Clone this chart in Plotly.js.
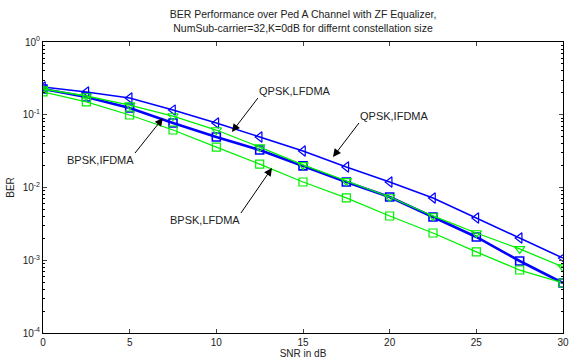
<!DOCTYPE html>
<html>
<head>
<meta charset="utf-8">
<script src="https://cdn.plot.ly/plotly-3.0.1.min.js"></script>
<style>html,body{margin:0;padding:0;background:#fff;}#chart{width:569px;height:363px;}</style>
</head>
<body>
<div id="chart"></div>
<script>
// Data
const snr = [0, 2.5, 5, 7.5, 10, 12.5, 15, 17.5, 20, 22.5, 25, 27.5, 30];
const qpskIfdma = [0.241, 0.206, 0.170, 0.116, 0.0771, 0.0494, 0.0318, 0.0191, 0.0119, 0.00718, 0.00381, 0.00202, 0.00107];
const bpskIfdma = [0.226, 0.175, 0.124, 0.0771, 0.0494, 0.0328, 0.0198, 0.0119, 0.0074, 0.00393, 0.00209, 0.000977, 0.000487];
const qpskLfdma = [0.226, 0.181, 0.136, 0.0961, 0.0617, 0.0360, 0.0204, 0.0123, 0.0074, 0.00406, 0.00237, 0.00143, 0.000807];
const bpskLfdma = [0.206, 0.150, 0.0992, 0.0617, 0.0360, 0.0210, 0.0119, 0.00718, 0.00406, 0.00237, 0.00130, 0.000734, 0.000487];
const xTicks = [0, 5, 10, 15, 20, 25, 30];
const yTickVals = [1e-4, 1e-3, 1e-2, 1e-1, 1];
const yTickText = ['10<sup>-4</sup>', '10<sup>-3</sup>', '10<sup>-2</sup>', '10<sup>-1</sup>', '10<sup>0</sup>'];
const titleText = 'BER Performance over Ped A Channel with ZF Equalizer,<br>NumSub-carrier=32,K=0dB for differnt constellation size';
const labels = ['QPSK,LFDMA', 'QPSK,IFDMA', 'BPSK,IFDMA', 'BPSK,LFDMA'];

const blue = '#0000ff', green = '#00f000';
const font = 'Liberation Sans, Arial, sans-serif';

const traces = [
  {x: snr, y: qpskIfdma, mode: 'lines+markers', line: {color: blue, width: 1.6},
   marker: {symbol: 'triangle-left-open', size: 9, color: blue, line: {width: 1.2}}},
  {x: snr, y: bpskIfdma, mode: 'lines+markers', line: {color: blue, width: 2.6},
   marker: {symbol: 'square-open', size: 8, color: blue, line: {width: 1.6}}},
  {x: snr, y: qpskLfdma, mode: 'lines+markers', line: {color: green, width: 1.3},
   marker: {symbol: 'triangle-down-open', size: 9, color: green, line: {width: 1.2}}},
  {x: snr, y: bpskLfdma, mode: 'lines+markers', line: {color: green, width: 1.3},
   marker: {symbol: 'square-open', size: 8, color: green, line: {width: 1.2}}}
];

// minor ticks for log axis
const minorVals = [];
for (let e = -4; e < 0; e++) for (let m = 2; m <= 9; m++) minorVals.push(m * Math.pow(10, e));

// arrow tip (tx, tly) and tail (fx, fly) in data units (log10 for y); text anchored at the tail
function callout(t, tx, tly, fx, fly, xa, ya) {
  return {x: tx, y: tly, ax: fx, ay: fly, xref: 'x', yref: 'y', axref: 'x', ayref: 'y',
          text: t, xanchor: xa, yanchor: ya, showarrow: true, arrowhead: 2, arrowsize: 1.6,
          arrowwidth: 1, arrowcolor: '#000', standoff: 0, startstandoff: 0, borderpad: 0,
          font: {family: font, size: 11, color: '#222'}};
}

const annotations = [
  callout(labels[0], 10.9, -1.237, 12.4, -0.770, 'left', 'bottom'),
  callout(labels[1], 16.73, -1.581, 18.23, -1.113, 'left', 'bottom'),
  callout(labels[2], 6.92, -1.045, 5.31, -1.526, 'right', 'top'),
  callout(labels[3], 13.21, -1.732, 11.42, -2.351, 'right', 'top')
];

const layout = {
  width: 569, height: 363,
  margin: {l: 43, r: 6, t: 42, b: 30},
  paper_bgcolor: '#fff', plot_bgcolor: '#fff',
  showlegend: false,
  font: {family: font, size: 10, color: '#222'},
  title: {text: titleText, font: {family: font, size: 10.5, color: '#222'},
          x: 0.5, xref: 'paper', y: 1 - 18 / 363, yanchor: 'top'},
  xaxis: {range: [0, 30], tickvals: xTicks, ticks: 'inside', ticklen: 4, tickwidth: 1,
          showline: true, linecolor: '#000', linewidth: 1, mirror: 'ticks', showgrid: false,
          zeroline: false, tickfont: {size: 10},
          title: {text: 'SNR in dB', font: {size: 10}, standoff: 2}},
  yaxis: {type: 'log', range: [-4, 0], tickvals: yTickVals, ticktext: yTickText,
          ticks: 'inside', ticklen: 4, tickwidth: 1,
          minor: {tickvals: minorVals, ticks: 'inside', ticklen: 2, tickcolor: '#000', showgrid: false},
          showline: true, linecolor: '#000', linewidth: 1, mirror: 'ticks', showgrid: false,
          zeroline: false, tickfont: {size: 10},
          title: {text: 'BER', font: {size: 10}, standoff: 6}},
  annotations: annotations
};

Plotly.newPlot('chart', traces, layout, {displayModeBar: false, staticPlot: true});
</script>
</body>
</html>
